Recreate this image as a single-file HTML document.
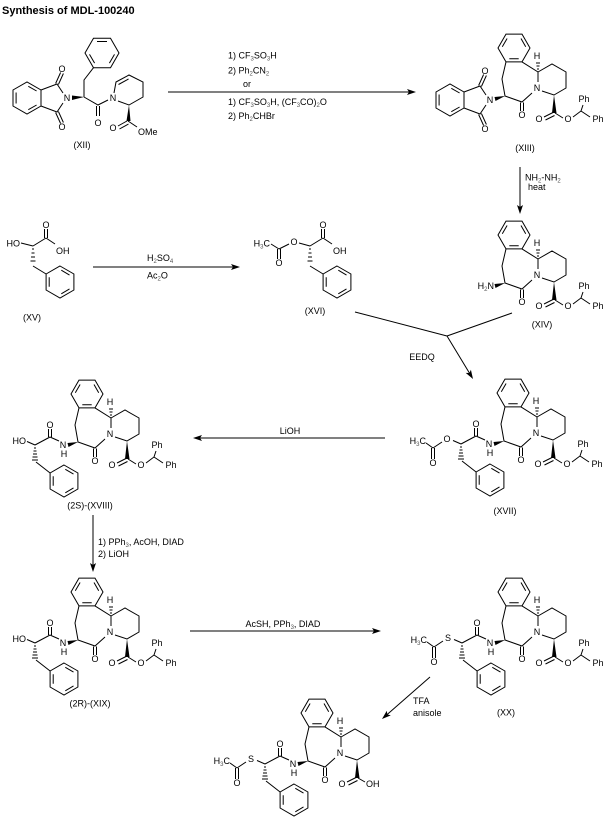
<!DOCTYPE html>
<html><head><meta charset="utf-8"><style>
html,body{margin:0;padding:0;background:#fff}
svg{display:block}
text{font-family:"Liberation Sans",Arial,sans-serif;font-size:9px;fill:#000}
.a{text-anchor:middle}
.e{text-anchor:end}
.s{font-size:6px;fill:#555}
.ln{fill:none;stroke:#000;stroke-width:1}
</style></head><body>
<svg xmlns="http://www.w3.org/2000/svg" width="610" height="828" viewBox="0 0 610 828">
<rect width="610" height="828" fill="#fff"/>
<defs>
<g id="core">
 <g class="ln">
  <polygon points="-7,-40 -15,-53.9 -31,-53.9 -39,-40 -31,-26.1 -15,-26.1"/>
  <path d="M-11.3,-41.3L-16,-49.5M-29.9,-49.5L-34.7,-41.3M-27.7,-29.2L-18.3,-29.2"/>
  <path d="M-31,-26.1L-35,-9L-32,8L-15,14L-5,5M1,-6L1,-16L-15,-26.1"/>
  <path d="M-16.5,14.5V23M-13.5,14.5V23"/>
  <path d="M1,-16L15,-24L29,-16L29,0L17,7L5,3"/>
  <path d="M0,-19h2M-0.5,-22h3M-1,-25h4"/>
  <path d="M16,24.5L7,29M17.5,27.5L8.5,32"/>
 </g>
 <polygon points="17,7 15,25 19.5,25" fill="#000"/>
</g>
<path id="etail" class="ln" d="M18,25L26,30M36,29L44,23L46,17M44,23L53,29"/>
<polygon id="wdg" points="-32,8 -42.5,9 -41.5,13" fill="#000"/>
<g id="amide">
 <use href="#wdg"/>
 <g class="ln">
  <path d="M-51,7L-60,3M-61.5,3V-5M-58.5,3V-5M-60,3L-75,11M-74,28L-59.9,39M-75,11L-83,7.5"/>
  <path d="M-76,14h2M-76.5,17h3M-77,20h4M-77.5,23h5M-78,26h6"/>
  <polygon points="-46,31 -32.1,39 -32.1,55 -46,63 -59.9,55 -59.9,39"/>
  <path d="M-44.7,35.3L-36.5,40.1M-36.5,53.9L-44.7,58.8M-56.8,51.7V42.3"/>
 </g>
</g>
<path id="acyl" class="ln" d="M-94,9L-103,15M-104.5,15V26M-101.5,15V26M-103,15L-110,10"/>
<g id="phth" class="ln">
 <path d="M-4,-5L-10,-14L-26,-8M-4,5L-10,14L-26,8"/>
 <path d="M-11.4,-14.5L-6.4,-25.5M-8.6,-13.5L-3.6,-24.5M-11.4,14.5L-6.4,25.5M-8.6,13.5L-3.6,24.5"/>
 <polygon points="-26,-8 -26,8 -40,16 -54,8 -54,-8 -40,-16"/>
 <path d="M-30.4,7L-38.7,11.7M-50.9,5.5V-5.5M-38.7,-11.7L-30.4,-7"/>
</g>
<g id="hacid">
 <g class="ln">
  <path d="M33,246L46,238M44.5,238V229M47.5,238V229M46,238L55,244M33,266L46.1,274"/>
  <path d="M32,249h2M31.5,253h3M31,257h4M30.5,261h5"/>
  <polygon points="60,266 73.9,274 73.9,290 60,298 46.1,290 46.1,274"/>
  <path d="M61.3,270.2L69.5,275.1M69.5,288.9L61.3,293.8M49.2,286.7V277.3"/>
 </g>
</g>
</defs>

<text x="2" y="14" style="font-weight:bold;font-size:11px">Synthesis of MDL-100240</text>

<!-- XII -->
<use href="#phth" x="67" y="98"/>
<g class="ln">
 <path d="M84,97L84,80L93.5,67.7"/>
 <polygon points="119,53 110.5,38.3 93.5,38.3 85,53 93.5,67.7 110.5,67.7"/>
 <path d="M97,41.5H107M114.5,54.4L109.4,63.1M94.6,63.1L89.5,54.4"/>
 <path d="M84,97L98,105L108,100M96.5,106V116M99.5,106V116"/>
 <path d="M114,93L116,82L129,75L143,82L143,97L129,105L118,101M118.5,84.5L128.5,79"/>
 <path d="M127,121L118,126M128.5,124L119.5,129M128,121L137,127"/>
</g>
<polygon points="84,97 72,95.5 72,100" fill="#000"/>
<polygon points="129,105 126.5,121 130.5,121" fill="#000"/>
<text class="a" x="67" y="101.2">N</text>
<text class="a" x="62" y="72.2">O</text>
<text class="a" x="62" y="130.2">O</text>
<text class="a" x="113" y="101.2">N</text>
<text class="a" x="98" y="126.2">O</text>
<text class="a" x="113" y="131.2">O</text>
<text x="138" y="135.2">OMe</text>
<text class="a" x="82" y="148">(XII)</text>

<!-- top arrow -->
<path class="ln" d="M168,92H410"/>
<polygon points="416,92 407,89 409,92 407,95"/>
<text x="228" y="58.5">1) CF<tspan class="s" dy="2">3</tspan><tspan dy="-2">SO</tspan><tspan class="s" dy="2">3</tspan><tspan dy="-2">H</tspan></text>
<text x="228" y="73.5">2) Ph<tspan class="s" dy="2">2</tspan><tspan dy="-2">CN</tspan><tspan class="s" dy="2">2</tspan></text>
<text x="243" y="87">or</text>
<text x="228" y="105">1) CF<tspan class="s" dy="2">3</tspan><tspan dy="-2">SO</tspan><tspan class="s" dy="2">3</tspan><tspan dy="-2">H, (CF</tspan><tspan class="s" dy="2">3</tspan><tspan dy="-2">CO)</tspan><tspan class="s" dy="2">2</tspan><tspan dy="-2">O</tspan></text>
<text x="228" y="119">2) Ph<tspan class="s" dy="2">2</tspan><tspan dy="-2">CHBr</tspan></text>

<!-- XIII -->
<g transform="translate(537,88)">
 <use href="#core"/><use href="#etail"/><use href="#wdg"/><use href="#phth" x="-47" y="12"/>
 <text class="a" x="0" y="3.2">N</text><text class="a" x="0" y="-28.8">H</text>
 <text class="a" x="-15" y="30.2">O</text><text class="a" x="2" y="34.2">O</text>
 <text class="a" x="31" y="34.2">O</text><text class="a" x="47" y="14.2">Ph</text><text class="a" x="61" y="34.2">Ph</text>
 <text class="a" x="-47" y="15.2">N</text><text class="a" x="-52" y="-13.8">O</text><text class="a" x="-52" y="44.2">O</text>
</g>
<text class="a" x="525" y="151">(XIII)</text>

<!-- NH2NH2 arrow -->
<path class="ln" d="M520,167V208"/>
<polygon points="520,214 517,205 520,207 523,205"/>
<text x="525" y="180.5">NH<tspan class="s" dy="2">2</tspan><tspan dy="-2">-NH</tspan><tspan class="s" dy="2">2</tspan></text>
<text x="528" y="190">heat</text>

<!-- XIV -->
<g transform="translate(537,275)">
 <use href="#core"/><use href="#etail"/><use href="#wdg"/>
 <text class="a" x="0" y="3.2">N</text><text class="a" x="0" y="-28.8">H</text>
 <text class="a" x="-15" y="30.2">O</text><text class="a" x="2" y="34.2">O</text>
 <text class="a" x="31" y="34.2">O</text><text class="a" x="47" y="14.2">Ph</text><text class="a" x="61" y="34.2">Ph</text>
 <text class="e" x="-43" y="14">H<tspan class="s" dy="2">2</tspan><tspan dy="-2">N</tspan></text>
</g>
<text class="a" x="542" y="327.5">(XIV)</text>

<!-- XV -->
<use href="#hacid"/>
<path class="ln" d="M21,243L33,246"/>
<text class="e" x="20" y="246.5">HO</text>
<text class="a" x="46" y="228.2">O</text>
<text x="56" y="254">OH</text>
<text class="a" x="32" y="320.5">(XV)</text>

<!-- H2SO4 arrow -->
<path class="ln" d="M93,267H234"/>
<polygon points="240,267 231,264 233,267 231,270"/>
<text x="147" y="261">H<tspan class="s" dy="2">2</tspan><tspan dy="-2">SO</tspan><tspan class="s" dy="2">4</tspan></text>
<text x="147" y="278.5">Ac<tspan class="s" dy="2">2</tspan><tspan dy="-2">O</tspan></text>

<!-- XVI -->
<g transform="translate(277,0)">
 <use href="#hacid"/>
 <path class="ln" d="M33,246L22,243M12,244L2,249M0.5,249V259M3.5,249V259M2,249L-6,244"/>
 <text class="a" x="17" y="245.2">O</text>
 <text class="a" x="2" y="266.2">O</text>
 <text class="e" x="-7" y="246.5">H<tspan class="s" dy="2">3</tspan><tspan dy="-2">C</tspan></text>
 <text class="a" x="46" y="228.2">O</text>
 <text x="56" y="254">OH</text>
</g>
<text class="a" x="315" y="314">(XVI)</text>

<!-- EEDQ -->
<path class="ln" d="M355,312L447,336M512,313L447,336M447,336L469.4,373"/>
<polygon points="473,379 470.9,369.7 469.4,373 465.7,372.9"/>
<text class="a" x="422" y="360">EEDQ</text>

<!-- XVII -->
<g transform="translate(536,433)">
 <use href="#core"/><use href="#etail"/><use href="#amide"/><use href="#acyl"/>
 <text class="a" x="0" y="3.2">N</text><text class="a" x="0" y="-28.8">H</text>
 <text class="a" x="-15" y="30.2">O</text><text class="a" x="2" y="34.2">O</text>
 <text class="a" x="31" y="34.2">O</text><text class="a" x="47" y="14.2">Ph</text><text class="a" x="61" y="34.2">Ph</text>
 <text class="a" x="-47" y="14.2">N</text><text class="a" x="-46" y="23.2">H</text><text class="a" x="-60" y="-5.8">O</text>
 <text class="a" x="-89" y="9.2">O</text><text class="a" x="-103" y="33.2">O</text>
 <text class="e" x="-110" y="11">H<tspan class="s" dy="2">3</tspan><tspan dy="-2">C</tspan></text>
</g>
<text class="a" x="505" y="514">(XVII)</text>

<!-- LiOH arrow -->
<path class="ln" d="M199,438H385"/>
<polygon points="193,438 202,435 200,438 202,441"/>
<text class="a" x="290" y="434">LiOH</text>

<!-- XVIII -->
<g transform="translate(110,434)">
 <use href="#core"/><use href="#etail"/><use href="#amide"/>
 <text class="a" x="0" y="3.2">N</text><text class="a" x="0" y="-28.8">H</text>
 <text class="a" x="-15" y="30.2">O</text><text class="a" x="2" y="34.2">O</text>
 <text class="a" x="31" y="34.2">O</text><text class="a" x="47" y="14.2">Ph</text><text class="a" x="61" y="34.2">Ph</text>
 <text class="a" x="-47" y="14.2">N</text><text class="a" x="-46" y="23.2">H</text><text class="a" x="-60" y="-5.8">O</text>
 <text class="e" x="-84" y="10">HO</text>
</g>
<text class="a" x="90" y="508.5">(2S)-(XVIII)</text>

<!-- vertical arrow -->
<path class="ln" d="M93,515V566"/>
<polygon points="93,572 90,563 93,565 96,563"/>
<text x="98" y="545">1) PPh<tspan class="s" dy="2">3</tspan><tspan dy="-2">, AcOH, DIAD</tspan></text>
<text x="98" y="557">2) LiOH</text>

<!-- XIX -->
<g transform="translate(110,632)">
 <use href="#core"/><use href="#etail"/><use href="#amide"/>
 <text class="a" x="0" y="3.2">N</text><text class="a" x="0" y="-28.8">H</text>
 <text class="a" x="-15" y="30.2">O</text><text class="a" x="2" y="34.2">O</text>
 <text class="a" x="31" y="34.2">O</text><text class="a" x="47" y="14.2">Ph</text><text class="a" x="61" y="34.2">Ph</text>
 <text class="a" x="-47" y="14.2">N</text><text class="a" x="-46" y="23.2">H</text><text class="a" x="-60" y="-5.8">O</text>
 <text class="e" x="-84" y="10">HO</text>
</g>
<text class="a" x="90" y="706.5">(2R)-(XIX)</text>

<!-- AcSH arrow -->
<path class="ln" d="M190,631H375"/>
<polygon points="381,631 372,628 374,631 372,634"/>
<text class="a" x="283" y="627">AcSH, PPh<tspan class="s" dy="2">3</tspan><tspan dy="-2">, DIAD</tspan></text>

<!-- XX -->
<g transform="translate(537,632)">
 <use href="#core"/><use href="#etail"/><use href="#amide"/><use href="#acyl"/>
 <text class="a" x="0" y="3.2">N</text><text class="a" x="0" y="-28.8">H</text>
 <text class="a" x="-15" y="30.2">O</text><text class="a" x="2" y="34.2">O</text>
 <text class="a" x="31" y="34.2">O</text><text class="a" x="47" y="14.2">Ph</text><text class="a" x="61" y="34.2">Ph</text>
 <text class="a" x="-47" y="14.2">N</text><text class="a" x="-46" y="23.2">H</text><text class="a" x="-60" y="-5.8">O</text>
 <text class="a" x="-89" y="9.2">S</text><text class="a" x="-103" y="33.2">O</text>
 <text class="e" x="-110" y="11">H<tspan class="s" dy="2">3</tspan><tspan dy="-2">C</tspan></text>
</g>
<text class="a" x="506" y="715.5">(XX)</text>

<!-- TFA arrow -->
<path class="ln" d="M430,677L387.3,714.4"/>
<polygon points="382,719 386.8,710.8 387.3,714.4 390.8,715.4"/>
<text x="413" y="704">TFA</text>
<text x="413" y="716">anisole</text>

<!-- final -->
<g transform="translate(340,753)">
 <use href="#core"/><use href="#amide"/><use href="#acyl"/>
 <path class="ln" d="M18,25L25,29"/>
 <text class="a" x="0" y="3.2">N</text><text class="a" x="0" y="-28.8">H</text>
 <text class="a" x="-15" y="30.2">O</text><text class="a" x="2" y="34.2">O</text>
 <text x="26" y="34.2">OH</text>
 <text class="a" x="-47" y="14.2">N</text><text class="a" x="-46" y="23.2">H</text><text class="a" x="-60" y="-5.8">O</text>
 <text class="a" x="-89" y="9.2">S</text><text class="a" x="-103" y="33.2">O</text>
 <text class="e" x="-110" y="11">H<tspan class="s" dy="2">3</tspan><tspan dy="-2">C</tspan></text>
</g>
</svg>
</body></html>
